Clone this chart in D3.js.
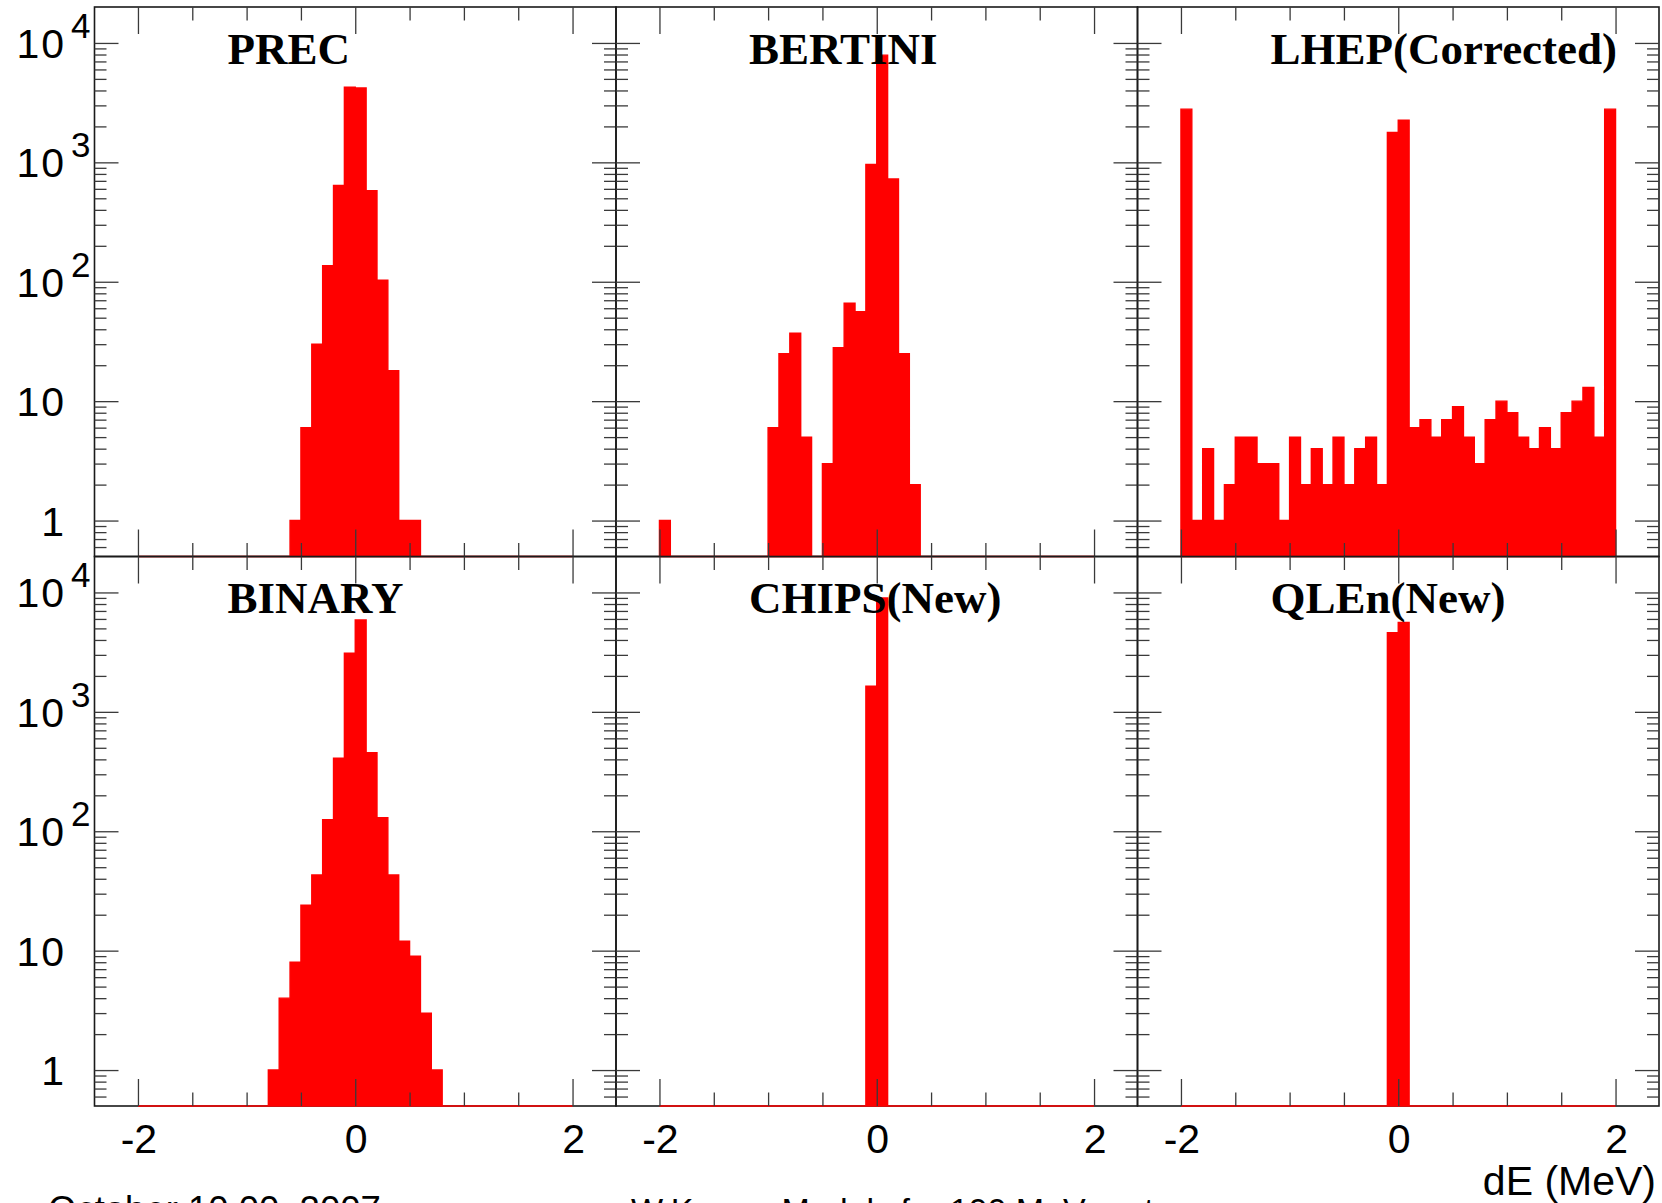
<!DOCTYPE html>
<html>
<head>
<meta charset="utf-8">
<script src="https://cdn.jsdelivr.net/npm/d3@7"></script>
<style>
  html, body { margin: 0; padding: 0; background: #fff; overflow: hidden; }
  svg { display: block; }
</style>
</head>
<body>
<svg id="chart" width="1662" height="1203"></svg>
<script>
// ---------------- data ----------------
// 40 bins of width 0.1 MeV from -2 to 2 (bin low edges)
const binLowEdges = [-2.0,-1.9,-1.8,-1.7,-1.6,-1.5,-1.4,-1.3,-1.2,-1.1,
                     -1.0,-0.9,-0.8,-0.7,-0.6,-0.5,-0.4,-0.3,-0.2,-0.1,
                      0.0, 0.1, 0.2, 0.3, 0.4, 0.5, 0.6, 0.7, 0.8, 0.9,
                      1.0, 1.1, 1.2, 1.3, 1.4, 1.5, 1.6, 1.7, 1.8, 1.9];
const binWidth = 0.1;

const modelNames = ["PREC", "BERTINI", "LHEP(Corrected)", "BINARY", "CHIPS(New)", "QLEn(New)"];

const precCounts    = [0,0,0,0,0,0,0,0,0,0, 0,0,0,0,1,6,30,136,640,4250, 4200,580,103,18,1,1,0,0,0,0, 0,0,0,0,0,0,0,0,0,0];
const bertiniCounts = [1,0,0,0,0,0,0,0,0,0, 6,25,37,5,0,3,28,66,56,958, 7900,727,25,2,0,0,0,0,0,0, 0,0,0,0,0,0,0,0,0,0];
const lhepCounts    = [2790,1,4,1,2,5,5,3,3,1, 5,2,4,2,5,2,4,5,2,1780, 2250,6,7,5,7,9,5,3,7,10, 8,5,4,6,4,8,10,13,5,2790];
const binaryCounts  = [0,0,0,0,0,0,0,0,0,0, 0,0,1,4,8,24,43,125,410,3100, 5880,455,130,43,12,9,3,1,0,0, 0,0,0,0,0,0,0,0,0,0];
const chipsCounts   = [0,0,0,0,0,0,0,0,0,0, 0,0,0,0,0,0,0,0,0,1640, 9000,0,0,0,0,0,0,0,0,0, 0,0,0,0,0,0,0,0,0,0];
const qlenCounts    = [0,0,0,0,0,0,0,0,0,0, 0,0,0,0,0,0,0,0,0,4600, 5600,0,0,0,0,0,0,0,0,0, 0,0,0,0,0,0,0,0,0,0];
const modelCounts = [precCounts, bertiniCounts, lhepCounts, binaryCounts, chipsCounts, qlenCounts];

const xMajorTicks = [-2, 0, 2];
const xMinorTicks = [-1.5, -1, -0.5, 0.5, 1, 1.5];
const xTickLabels = ["-2", "0", "2"];
const yMajorTicks = [1, 10, 100, 1000, 10000];
const yTickBase = ["1", "10", "10", "10", "10"];
const yTickExp  = ["", "", "2", "3", "4"];
const yMinorTicks = [0.6,0.7,0.8,0.9, 2,3,4,5,6,7,8,9, 20,30,40,50,60,70,80,90,
                     200,300,400,500,600,700,800,900, 2000,3000,4000,5000,6000,7000,8000,9000];
const xTitle = "dE (MeV)";
const footLeft = "October 10 00, 2007";
const footRight = "W.Kasey, Models for 100 MeV protons";

// ---------------- layout ----------------
const colX = [94.5, 616, 1137.5];
const rowY = [7, 556.5];
const panelW = 521.5, panelH = 549.5;
const xDomain = [-2.4, 2.4];
const yDomain = [0.5, 20000];

const svg = d3.select("#chart");
const sans = "'Liberation Sans', Arial, Helvetica, sans-serif";
const serif = "'Liberation Serif', 'Times New Roman', serif";
const frameColor = "#1a1a1a";
const tickColor = "#3a3a3a";

modelCounts.forEach((counts, k) => {
  const col = k % 3, row = Math.floor(k / 3);
  const x0 = colX[col], y0 = rowY[row];
  const x = d3.scaleLinear().domain(xDomain).range([x0, x0 + panelW]);
  const y = d3.scaleLog().domain(yDomain).range([y0 + panelH, y0]);
  const g = svg.append("g");

  // frame
  g.append("rect").attr("x", x0).attr("y", y0).attr("width", panelW).attr("height", panelH)
    .attr("fill", "none").attr("stroke", frameColor).attr("stroke-width", 1.6);

  // histogram (filled step polygon, zero bins at the bottom)
  const base = y0 + panelH;
  const pts = [[x(binLowEdges[0]), base]];
  counts.forEach((c, i) => {
    const yy = c > 0 ? y(c) : base;
    pts.push([x(binLowEdges[i]), yy]);
    pts.push([x(binLowEdges[i] + binWidth), yy]);
  });
  pts.push([x(binLowEdges[binLowEdges.length - 1] + binWidth), base]);
  g.append("path")
    .attr("d", d3.line()(pts) + "Z")
    .attr("fill", "#ff0000").attr("stroke", "#ff0000").attr("stroke-width", 1.4)
    .attr("stroke-linejoin", "miter");

  // ticks via d3 axes (all pointing inward)
  const addAxis = (axis, tx, ty) => {
    const a = g.append("g").attr("transform", `translate(${tx},${ty})`).call(axis);
    a.select(".domain").remove();
    a.selectAll("text").remove();
    a.selectAll("line").attr("stroke", tickColor).attr("stroke-width", 1.3);
  };
  // x: top (down) and bottom (up)
  addAxis(d3.axisBottom(x).tickValues(xMajorTicks).tickSize(27).tickFormat(""), 0, y0);
  addAxis(d3.axisBottom(x).tickValues(xMinorTicks).tickSize(13.5).tickFormat(""), 0, y0);
  addAxis(d3.axisTop(x).tickValues(xMajorTicks).tickSize(27).tickFormat(""), 0, base);
  addAxis(d3.axisTop(x).tickValues(xMinorTicks).tickSize(13.5).tickFormat(""), 0, base);
  // y: left (right-pointing) and right (left-pointing)
  addAxis(d3.axisRight(y).tickValues(yMajorTicks).tickSize(24).tickFormat(""), x0, 0);
  addAxis(d3.axisRight(y).tickValues(yMinorTicks).tickSize(12).tickFormat(""), x0, 0);
  addAxis(d3.axisLeft(y).tickValues(yMajorTicks).tickSize(24).tickFormat(""), x0 + panelW, 0);
  addAxis(d3.axisLeft(y).tickValues(yMinorTicks).tickSize(12).tickFormat(""), x0 + panelW, 0);

  // title
  g.append("text").text(modelNames[k])
    .attr("x", x0 + 133).attr("y", y0 + 56.5)
    .attr("font-family", serif).attr("font-weight", "bold").attr("font-size", 45)
    .attr("fill", "#000");

  // y labels on first column
  if (col === 0) {
    yMajorTicks.forEach((v, i) => {
      const ty = y(v);
      g.append("text").text(yTickBase[i])
        .attr("x", 66).attr("y", ty + 15)
        .attr("text-anchor", "end").attr("font-family", sans).attr("font-size", 41)
        .attr("letter-spacing", 2).attr("fill", "#000");
      if (yTickExp[i]) {
        g.append("text").text(yTickExp[i])
          .attr("x", 71).attr("y", ty - 5)
          .attr("font-family", sans).attr("font-size", 35).attr("fill", "#000");
      }
    });
  }
  // x labels on bottom row
  if (row === 1) {
    xMajorTicks.forEach((v, i) => {
      g.append("text").text(xTickLabels[i])
        .attr("x", x(v) + 1).attr("y", 1153)
        .attr("text-anchor", "middle").attr("font-family", sans).attr("font-size", 41).attr("fill", "#000");
    });
  }
});

// axis title
svg.append("text").text(xTitle)
  .attr("x", 1656).attr("y", 1195).attr("text-anchor", "end")
  .attr("font-family", sans).attr("font-size", 41).attr("fill", "#000");

// footer texts (mostly cut off at the bottom edge, as in the original)
svg.append("text").text(footLeft)
  .attr("x", 48).attr("y", 1222)
  .attr("font-family", sans).attr("font-size", 36.5).attr("fill", "#000");
svg.append("text").text(footRight)
  .attr("x", 631).attr("y", 1222)
  .attr("font-family", sans).attr("font-size", 34).attr("fill", "#000");
</script>
</body>
</html>
